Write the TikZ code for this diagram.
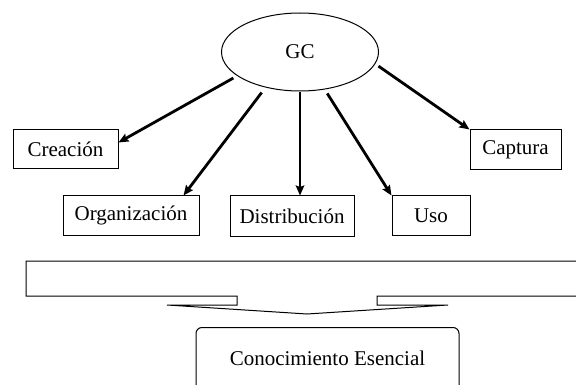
\documentclass[tikz,border=0pt]{standalone}
\usepackage{fontspec}
\setmainfont{Liberation Serif}
\usetikzlibrary{shapes.geometric,arrows.meta}
\begin{document}
\begin{tikzpicture}[x=1pt,y=-1pt,
  txt/.style={font=\fontsize{21}{24}\selectfont},
  box/.style={draw,line width=1pt,inner sep=0pt,txt},
  arr/.style={line width=2.8pt,-{Stealth[length=10pt,width=8.5pt,inset=1.5pt]}},
  shape lw/.style={line width=1pt}]
\useasboundingbox (0,0) rectangle (576,385);
\node[draw,ellipse,line width=1pt,minimum width=157pt,minimum height=78pt,inner sep=0pt,txt] (gc) at (300,52) {GC};
\node[box,minimum width=105pt,minimum height=39pt] (cre) at (65.5,149.5) {Creación};
\node[box,minimum width=136pt,minimum height=39pt] (org) at (131,215.5) {Organización};
\node[box,minimum width=124pt,minimum height=40pt] (dis) at (292,216) {Distribución};
\node[box,minimum width=78pt,minimum height=39pt] (uso) at (431,215.5) {Uso};
\node[box,minimum width=91pt,minimum height=40pt] (cap) at (515.5,150) {Captura};
\draw[arr] (gc.201) ++(-4,2) coordinate (s1) -- ([yshift=-13pt]cre.north east);
\draw[arr] (gc.226) ++(-4,5) coordinate (s2) -- ([xshift=-16pt]org.north east);
\draw[arr] (gc.south) ++(0,1) coordinate (s3) -- ([xshift=8pt]dis.north);
\draw[arr] (gc.304) ++(2,4) coordinate (s4) -- (uso.north west);
\draw[arr] (gc.350) ++(4,1) coordinate (s5) -- (cap.north west);
\begin{scope}
\clip (0,0) rectangle (576,385);
\draw[shape lw,line join=miter] (26,261) -- (590,261) -- (590,296) -- (377,296) -- (377,305) -- (448,305) -- (307,314) -- (167,305) -- (237,305) -- (237,296) -- (26,296) -- cycle;
\node[draw,line width=1pt,rounded corners=6pt,minimum width=263pt,minimum height=80pt,inner sep=0pt,anchor=north] (ce) at (327.5,327) {};
\node[txt] (cet) at (327.5,358) {Conocimiento Esencial};
\end{scope}
\end{tikzpicture}
\end{document}
